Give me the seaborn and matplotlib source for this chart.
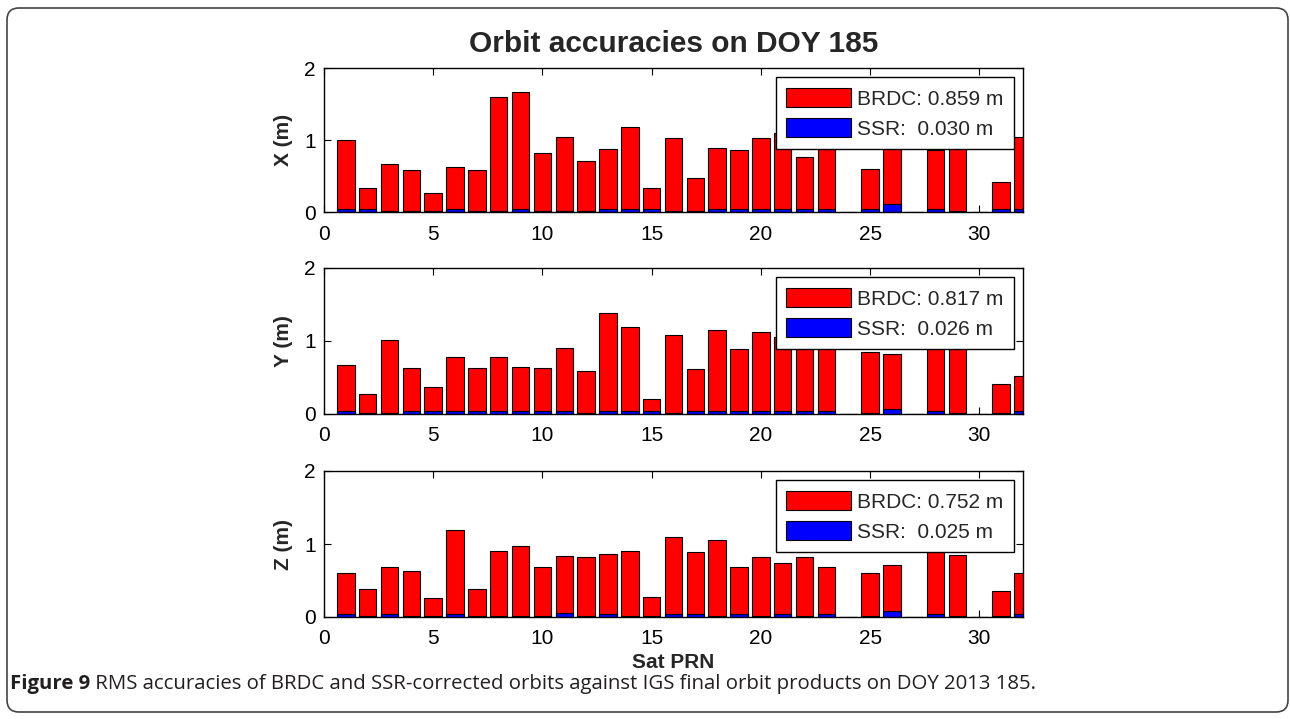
import matplotlib
matplotlib.use('Agg')
import matplotlib.pyplot as plt
import seaborn as sns
import pandas as pd
from matplotlib.patches import Patch, FancyBboxPatch

# ---------------- data ----------------
prn = list(range(1, 33))

x_brdc = [1.00, 0.34, 0.67, 0.585, 0.27, 0.63, 0.585, 1.60, 1.67, 0.825, 1.045, 0.715,
          0.87, 1.18, 0.34, 1.03, 0.47, 0.89, 0.865, 1.03, 1.10, 0.76, 0.87, 0.0,
          0.60, 1.00, 0.0, 0.865, 1.00, 0.0, 0.42, 1.04]
x_ssr = [0.04, 0.04, 0.01, 0.01, 0.01, 0.04, 0.01, 0.01, 0.04, 0.01, 0.01, 0.01,
         0.04, 0.04, 0.04, 0.01, 0.01, 0.04, 0.04, 0.04, 0.04, 0.04, 0.04, 0.0,
         0.04, 0.11, 0.0, 0.04, 0.01, 0.0, 0.04, 0.04]

y_brdc = [0.67, 0.28, 1.02, 0.63, 0.37, 0.78, 0.63, 0.78, 0.65, 0.63, 0.91, 0.585,
          1.39, 1.195, 0.21, 1.085, 0.61, 1.15, 0.89, 1.13, 1.05, 1.00, 0.95, 0.0,
          0.85, 0.82, 0.0, 1.00, 0.95, 0.0, 0.41, 0.52]
y_ssr = [0.04, 0.01, 0.01, 0.04, 0.04, 0.04, 0.04, 0.04, 0.04, 0.04, 0.04, 0.01,
         0.04, 0.04, 0.04, 0.01, 0.04, 0.04, 0.04, 0.04, 0.04, 0.04, 0.04, 0.0,
         0.01, 0.065, 0.0, 0.04, 0.01, 0.0, 0.01, 0.04]

z_brdc = [0.60, 0.385, 0.69, 0.63, 0.26, 1.195, 0.385, 0.91, 0.975, 0.69, 0.84, 0.82,
          0.865, 0.91, 0.275, 1.10, 0.89, 1.06, 0.69, 0.82, 0.74, 0.82, 0.69, 0.0,
          0.60, 0.71, 0.0, 0.95, 0.845, 0.0, 0.36, 0.60]
z_ssr = [0.04, 0.02, 0.04, 0.02, 0.02, 0.04, 0.02, 0.02, 0.02, 0.02, 0.06, 0.02,
         0.04, 0.02, 0.02, 0.04, 0.04, 0.02, 0.04, 0.02, 0.04, 0.02, 0.04, 0.0,
         0.02, 0.08, 0.0, 0.04, 0.02, 0.0, 0.02, 0.04]

ylabels = ["X (m)", "Y (m)", "Z (m)"]
brdc_labels = ["BRDC: 0.859 m", "BRDC: 0.817 m", "BRDC: 0.752 m"]
ssr_labels = ["SSR:  0.030 m", "SSR:  0.026 m", "SSR:  0.025 m"]
title = "Orbit accuracies on DOY 185"
xlabel = "Sat PRN"
caption_bold = "Figure 9"
caption_rest = " RMS accuracies of BRDC and SSR-corrected orbits against IGS final orbit products on DOY 2013 185."

# ---------------- style ----------------
sns.set_theme(style='ticks')
plt.rcParams['font.family'] = ['Liberation Sans', 'DejaVu Sans']

W, H = 1290, 719
fig = plt.figure(figsize=(W / 100, H / 100), dpi=100)

panels = [(68, 212), (268, 414), (471, 617)]
series = [(x_brdc, x_ssr), (y_brdc, y_ssr), (z_brdc, z_ssr)]

for i, ((top, bot), (b, s)) in enumerate(zip(panels, series)):
    ax = fig.add_axes([324 / W, 1 - bot / H, 699 / W, (bot - top) / H])
    df = pd.DataFrame({'prn': prn, 'brdc': b, 'ssr': s})
    sns.barplot(data=df, x='prn', y='brdc', native_scale=True, color='#ff0000',
                saturation=1, edgecolor='black', linewidth=0.8, errorbar=None,
                width=0.8, ax=ax)
    sns.barplot(data=df, x='prn', y='ssr', native_scale=True, color='#0000ff',
                saturation=1, edgecolor='black', linewidth=0.8, errorbar=None,
                width=0.8, ax=ax)
    ax.set_xlim(0, 32)
    ax.set_ylim(0, 2)
    ax.set_xticks(range(0, 31, 5))
    ax.set_yticks([0, 1, 2])
    ax.tick_params(direction='in', top=True, right=True, length=5, width=0.8,
                   labelsize=15, pad=6, colors='black')
    ax.tick_params(axis='x', pad=9)
    for sp in ax.spines.values():
        sp.set_visible(True)
        sp.set_linewidth(1.0)
        sp.set_color('black')
    ax.set_ylabel(ylabels[i], fontsize=15, fontweight='bold', labelpad=8)
    if i == 2:
        ax.set_xlabel(xlabel, fontsize=15, fontweight='bold', labelpad=3)
    else:
        ax.set_xlabel('')
    handles = [Patch(facecolor='#ff0000', edgecolor='black', linewidth=0.8),
               Patch(facecolor='#0000ff', edgecolor='black', linewidth=0.8)]
    leg = ax.legend(handles=handles, labels=[brdc_labels[i], ssr_labels[i]],
                    loc='upper right', fontsize=15, frameon=True, fancybox=False,
                    edgecolor='black', framealpha=1, borderpad=0.5,
                    handlelength=3.1, handleheight=1.05, handletextpad=0.3,
                    labelspacing=0.45, borderaxespad=0.45)
    leg.get_frame().set_linewidth(1.0)

fig.text(673.5 / W, 1 - 44 / H, title, ha='center', va='center',
         fontsize=21.5, fontweight='bold')

# outer rounded frame
frame = FancyBboxPatch((0.07, 0.07), 12.81, 7.04,
                       boxstyle='round,pad=0,rounding_size=0.12',
                       transform=fig.dpi_scale_trans, fill=False,
                       edgecolor='#444444', linewidth=1.2)
fig.add_artist(frame)

# caption
cap_y = 1 - 684 / H
t1 = fig.text(10 / W, cap_y, caption_bold, ha='left', va='center', fontsize=14.7,
              fontweight='bold', family=['Open Sans', 'DejaVu Sans'], color='#231f20')
renderer = fig.canvas.get_renderer()
bb = t1.get_window_extent(renderer=renderer)
fig.text(bb.x1 / W, cap_y, caption_rest, ha='left', va='center', fontsize=14.7,
         family=['Open Sans', 'DejaVu Sans'], color='#231f20')

fig.savefig('out.png', dpi=100)
